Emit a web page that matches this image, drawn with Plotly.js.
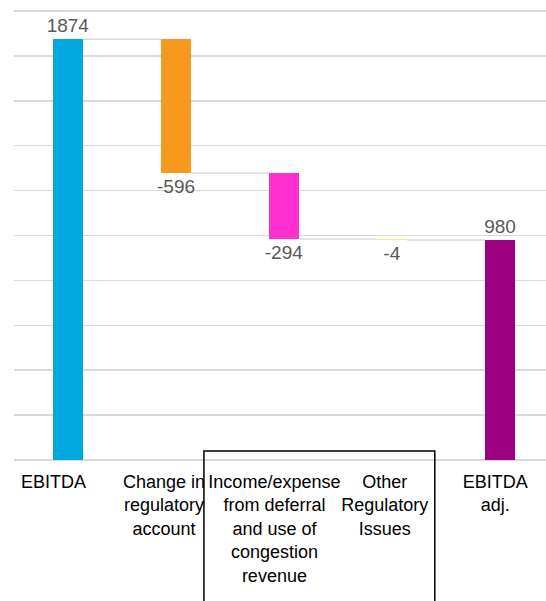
<!DOCTYPE html>
<html>
<head>
<meta charset="utf-8">
<script src="https://cdn.plot.ly/plotly-3.0.1.min.js"></script>
<style>html,body{margin:0;padding:0;background:#fff;}#chart{width:546px;height:601px;}</style>
</head>
<body>
<div id="chart"></div>
<script>
const categories = ["EBITDA", "Change in<br>regulatory<br>account", "Income/expense<br>from deferral<br>and use of<br>congestion<br>revenue", "Other<br>Regulatory<br>Issues", "EBITDA<br>adj."];
const values = [1874, -596, -294, -4, 980];
const measures = ["absolute", "relative", "relative", "relative", "total"];
const labels = ["1874", "-596", "-294", "-4", "980"];
const colors = ["#00a8df", "#f7991c", "#ff2fd0", "#f3ee6c", "#9b0080"];

const xs = categories.map((_, i) => i);
const bases = [], heights = [], ends = [];
let running = 0;
measures.forEach((m, i) => {
  if (m === "absolute") { bases.push(0); heights.push(values[i]); running = values[i]; }
  else if (m === "total") { bases.push(0); heights.push(running); }
  else { bases.push(running); heights.push(values[i]); running += values[i]; }
  ends.push(running);
});

const barW = 0.28;
const shapes = [];
for (let i = 0; i < xs.length - 1; i++) {
  shapes.push({type: "line", xref: "x", yref: "y", x0: xs[i] + barW / 2, x1: xs[i + 1] - barW / 2,
    y0: ends[i], y1: ends[i], line: {color: "#d9d9d9", width: 1.5}, layer: "below"});
}
shapes.push({type: "rect", xref: "paper", yref: "paper", x0: 0.357, x1: 0.791, y0: 0.0196, y1: -0.4,
  line: {color: "#000", width: 1.5}, fillcolor: "rgba(0,0,0,0)"});

const trace = {
  type: "bar", x: xs, y: heights, base: bases, width: barW,
  marker: {color: colors, line: {width: 0}},
  text: labels, textposition: "outside", cliponaxis: false, constraintext: "none",
  textfont: {family: "Liberation Sans, Arial, sans-serif", size: 19, color: "#595959"},
  hoverinfo: "none"
};
const labelTrace = {
  type: "scatter", mode: "markers", x: xs, y: xs.map(() => null), xaxis: "x2", yaxis: "y",
  hoverinfo: "none", showlegend: false
};

const layout = {
  width: 546, height: 601,
  margin: {l: 14, r: 0, t: 0, b: 141},
  paper_bgcolor: "#fff", plot_bgcolor: "#fff",
  showlegend: false,
  font: {family: "Liberation Sans, Arial, sans-serif"},
  xaxis: {range: [-0.5, 4.426], showticklabels: false,
    showgrid: false, zeroline: false, showline: false, ticks: "", fixedrange: true},
  xaxis2: {range: [-0.3587, 4.460], overlaying: "x", anchor: "y", side: "bottom",
    tickmode: "array", tickvals: xs, ticktext: categories, tickangle: 0,
    showgrid: false, zeroline: false, showline: false, ticks: "",
    ticklabelstandoff: 9,
    tickfont: {size: 18, color: "#000"}, fixedrange: true},
  yaxis: {range: [0, 2049], dtick: 200, tick0: 0, showgrid: true, gridcolor: "#d9d9d9", gridwidth: 1.5,
    zeroline: true, zerolinecolor: "#d9d9d9", zerolinewidth: 1.5,
    showticklabels: false, ticks: "", showline: false, fixedrange: true},
  shapes: shapes,
  bargap: 0
};

Plotly.newPlot("chart", [trace, labelTrace], layout, {displayModeBar: false, staticPlot: true});
</script>
</body>
</html>
